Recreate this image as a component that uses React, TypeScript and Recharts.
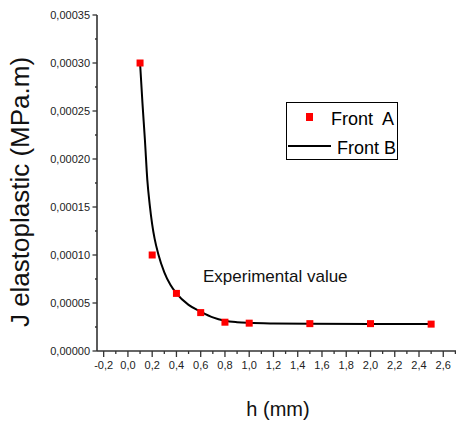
import { ComposedChart, Line, Scatter, XAxis, YAxis, Legend } from "recharts"

// Front A: measured points (h in mm, J in MPa.m)
const frontAH = [0.1, 0.2, 0.4, 0.6, 0.8, 1.0, 1.5, 2.0, 2.5]
const frontAJ = [0.0003, 0.0001, 0.00006, 0.00004, 0.00003, 0.000029, 0.0000285, 0.0000285, 0.000028]

// Front B: fitted curve
const frontBH = [0.1, 0.12, 0.14, 0.16, 0.18, 0.2, 0.22, 0.25, 0.3, 0.35, 0.4, 0.5, 0.6, 0.7, 0.8, 0.9, 1.0, 1.2, 1.5, 2.0, 2.5]
const frontBJ = [
  0.0003, 0.000258, 0.00022, 0.000178, 0.000152, 0.000132, 0.000117, 0.000101, 0.000082, 0.000069, 0.00006,
  0.000048, 0.000041, 0.000035, 0.0000315, 0.00003, 0.0000293, 0.0000287, 0.0000284, 0.0000282, 0.0000282,
]

const xTicks = [-0.2, -0.1, 0, 0.1, 0.2, 0.3, 0.4, 0.5, 0.6, 0.7, 0.8, 0.9, 1.0, 1.1, 1.2, 1.3, 1.4, 1.5, 1.6, 1.7, 1.8, 1.9, 2.0, 2.1, 2.2, 2.3, 2.4, 2.5, 2.6, 2.7]
const yTicks = [0, 0.000025, 0.00005, 0.000075, 0.0001, 0.000125, 0.00015, 0.000175, 0.0002, 0.000225, 0.00025, 0.000275, 0.0003, 0.000325, 0.00035]

const frontA = frontAH.map((x, i) => ({ x, y: frontAJ[i] }))
const frontB = frontBH.map((x, i) => ({ x, y: frontBJ[i] }))

const font = "'Liberation Sans', Arial, sans-serif"
const axisColor = "#333333"

function XTick({ x, y, payload }: any) {
  const v = payload.value as number
  const major = Math.round(v * 10) % 2 === 0
  return (
    <g>
      <line x1={x} x2={x} y1={y} y2={y + (major ? 6 : 3)} stroke={axisColor} strokeWidth={1.3} />
      {major && (
        <text x={x} y={y + 17.5} textAnchor="middle" fontSize={11} fontFamily={font} fill="#222">
          {v.toFixed(1).replace(".", ",")}
        </text>
      )}
    </g>
  )
}

function YTick({ x, y, payload }: any) {
  const v = payload.value as number
  const major = Math.round(v / 0.000025) % 2 === 0
  return (
    <g>
      <line x1={x - (major ? 4.5 : 2)} x2={x} y1={y} y2={y} stroke={axisColor} strokeWidth={1.3} />
      {major && (
        <text x={x - 7} y={y + 4} textAnchor="end" fontSize={11} fontFamily={font} fill="#222">
          {v.toFixed(5).replace(".", ",")}
        </text>
      )}
    </g>
  )
}

function Square({ cx, cy }: any) {
  return <rect x={cx - 3.5} y={cy - 3.5} width={7} height={7} fill="#ff0000" />
}

function LegendBox() {
  return (
    <svg width={113} height={59} style={{ display: "block" }}>
      <rect x={0.5} y={0.5} width={111} height={57} fill="#fff" stroke="#000" strokeWidth={1} />
      <rect x={20} y={11} width={7} height={8} fill="#ff0000" />
      <text x={45} y={23} fontSize={18} fontFamily={font} fill="#000" style={{ whiteSpace: "pre" }}>
        Front  A
      </text>
      <line x1={2} x2={45} y1={44} y2={44} stroke="#000" strokeWidth={2} />
      <text x={51} y={52} fontSize={18} fontFamily={font} fill="#000">
        Front B
      </text>
    </svg>
  )
}

export default function App() {
  return (
    <div style={{ position: "fixed", left: 0, top: 0, width: 456, height: 424, background: "#fff" }}>
      <ComposedChart width={456} height={424} margin={{ top: 15, right: 0, bottom: 0, left: 0 }}>
        <XAxis
          type="number"
          dataKey="x"
          domain={[-0.255, 2.705]}
          ticks={xTicks}
          interval={0}
          allowDataOverflow
          height={73}
          tickSize={0}
          tickMargin={0}
          tickLine={false}
          tick={<XTick />}
          axisLine={{ stroke: axisColor, strokeWidth: 1.6 }}
        />
        <YAxis
          type="number"
          dataKey="y"
          domain={[0, 0.00035]}
          ticks={yTicks}
          interval={0}
          allowDataOverflow
          width={97}
          tickSize={0}
          tickMargin={0}
          tickLine={false}
          tick={<YTick />}
          axisLine={{ stroke: axisColor, strokeWidth: 1.6 }}
        />
        <Legend
          layout="horizontal"
          verticalAlign="middle"
          align="center"
          content={() => <LegendBox />}
          wrapperStyle={{ position: "absolute", left: 286, top: 102, width: 113, height: 59 }}
        />
        <Scatter name="Front  A" data={frontA} dataKey="y" shape={<Square />} isAnimationActive={false} />
        <Line
          name="Front B"
          data={frontB}
          dataKey="y"
          type="monotone"
          stroke="#000"
          strokeWidth={2}
          dot={false}
          activeDot={false}
          isAnimationActive={false}
        />
        <text x={203} y={281.5} fontSize={17} fontFamily={font} fill="#111">
          Experimental value
        </text>
        <text x={278} y={416} textAnchor="middle" fontSize={20} fontFamily={font} fill="#111">
          h (mm)
        </text>
        <text
          x={29}
          y={192}
          textAnchor="middle"
          fontSize={26}
          fontFamily={font}
          fill="#111"
          transform="rotate(-90 29 192)"
        >
          J elastoplastic (MPa.m)
        </text>
      </ComposedChart>
    </div>
  )
}
